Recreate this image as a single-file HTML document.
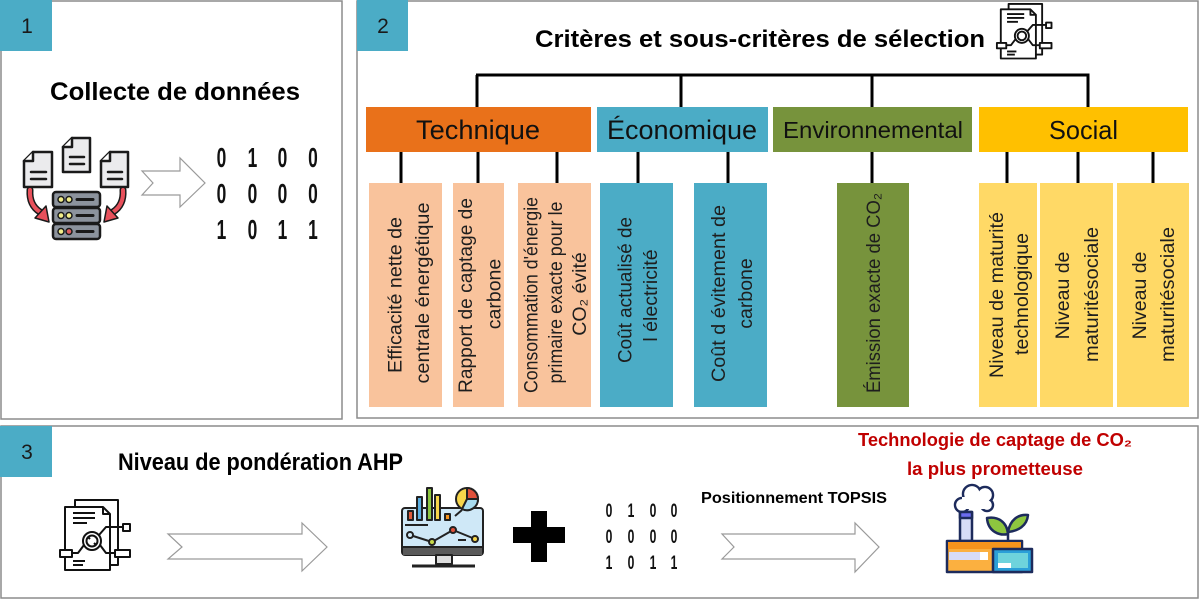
<!DOCTYPE html>
<html><head><meta charset="utf-8">
<style>
html,body{margin:0;padding:0;background:#fff;}
svg{display:block;}
text{font-family:"Liberation Sans",Arial,sans-serif;}
</style></head><body>
<svg width="1200" height="599" viewBox="0 0 1200 599" xmlns="http://www.w3.org/2000/svg">
<rect width="1200" height="599" fill="#fff"/>

<!-- panels -->
<rect x="1" y="1" width="341" height="418" fill="none" stroke="#8c8c8c" stroke-width="1.5"/>
<rect x="357" y="1" width="841" height="417" fill="none" stroke="#8c8c8c" stroke-width="1.5"/>
<rect x="1" y="426" width="1197" height="172" fill="none" stroke="#8c8c8c" stroke-width="1.5"/>

<!-- number boxes -->
<rect x="0" y="0" width="52" height="51" fill="#4bacc6"/>
<rect x="357" y="0" width="51" height="51" fill="#4bacc6"/>
<rect x="0" y="426" width="52" height="51" fill="#4bacc6"/>
<g font-size="21" text-anchor="middle" fill="#1a1a1a">
<text x="27" y="33">1</text>
<text x="383" y="33">2</text>
<text x="27" y="459">3</text>
</g>

<!-- titles -->
<g font-weight="bold" fill="#000">
<text x="50" y="100" font-size="25" textLength="250" lengthAdjust="spacingAndGlyphs">Collecte de données</text>
<text x="535" y="47" font-size="24" textLength="450" lengthAdjust="spacingAndGlyphs">Critères et sous-critères de sélection</text>
<text x="118" y="470" font-size="24" textLength="285" lengthAdjust="spacingAndGlyphs">Niveau de pondération AHP</text>
<text x="701" y="503" font-size="15.5" textLength="186" lengthAdjust="spacingAndGlyphs">Positionnement TOPSIS</text>
</g>
<g font-weight="bold" fill="#c00000" font-size="18">
<text x="858" y="446" textLength="274" lengthAdjust="spacingAndGlyphs">Technologie de captage de CO₂</text>
<text x="907" y="475" textLength="176" lengthAdjust="spacingAndGlyphs">la plus prometteuse</text>
</g>

<!-- tree connectors -->
<g stroke="#000" stroke-width="3" fill="none">
<line x1="476" y1="75" x2="1089.5" y2="75"/>
<line x1="477" y1="75" x2="477" y2="107"/>
<line x1="681" y1="75" x2="681" y2="107"/>
<line x1="872" y1="75" x2="872" y2="107"/>
<line x1="1088" y1="75" x2="1088" y2="107"/>
<line x1="401" y1="152" x2="401" y2="183"/>
<line x1="478" y1="152" x2="478" y2="183"/>
<line x1="557" y1="152" x2="557" y2="183"/>
<line x1="638" y1="152" x2="638" y2="183"/>
<line x1="728" y1="152" x2="728" y2="183"/>
<line x1="872" y1="152" x2="872" y2="183"/>
<line x1="1007" y1="152" x2="1007" y2="183"/>
<line x1="1078" y1="152" x2="1078" y2="183"/>
<line x1="1153" y1="152" x2="1153" y2="183"/>
</g>

<!-- category boxes -->
<rect x="366" y="107" width="225" height="45" fill="#e9711a"/>
<rect x="597" y="107" width="171" height="45" fill="#4bacc6"/>
<rect x="773" y="107" width="199" height="45" fill="#77933c"/>
<rect x="979" y="107" width="209" height="45" fill="#ffc000"/>
<g fill="#111">
<text x="416" y="139" font-size="27" textLength="124" lengthAdjust="spacingAndGlyphs">Technique</text>
<text x="607" y="139" font-size="27" textLength="150" lengthAdjust="spacingAndGlyphs">Économique</text>
<text x="783" y="138" font-size="23.5" textLength="180" lengthAdjust="spacingAndGlyphs">Environnemental</text>
<text x="1049" y="139" font-size="26" textLength="69" lengthAdjust="spacingAndGlyphs">Social</text>
</g>

<!-- sub-criteria boxes -->
<g fill="#f9c39c">
<rect x="369" y="183" width="73" height="224"/>
<rect x="453" y="183" width="51" height="224"/>
<rect x="518" y="183" width="73" height="224"/>
</g>
<g fill="#4bacc6">
<rect x="600" y="183" width="73" height="224"/>
<rect x="694" y="183" width="73" height="224"/>
</g>
<rect x="837" y="183" width="72" height="224" fill="#77933c"/>
<g fill="#ffd966">
<rect x="979" y="183" width="58" height="224"/>
<rect x="1040" y="183" width="73" height="224"/>
<rect x="1117" y="183" width="72" height="224"/>
</g>

<g font-size="19.5" fill="#1e1e1e" text-anchor="middle">
<text transform="translate(401.5,295) rotate(-90)" textLength="156" lengthAdjust="spacingAndGlyphs">Efficacité nette de</text>
<text transform="translate(429,293) rotate(-90)" textLength="181" lengthAdjust="spacingAndGlyphs">centrale énergétique</text>
<text transform="translate(472,295.5) rotate(-90)" textLength="195" lengthAdjust="spacingAndGlyphs">Rapport de captage de</text>
<text transform="translate(500.5,294) rotate(-90)">carbone</text>
<text transform="translate(537.5,295) rotate(-90)" textLength="196" lengthAdjust="spacingAndGlyphs">Consommation d'énergie</text>
<text transform="translate(562,292.5) rotate(-90)" textLength="182" lengthAdjust="spacingAndGlyphs">primaire exacte pour le</text>
<text transform="translate(586,294) rotate(-90)">CO₂ évité</text>
<text transform="translate(631.5,290) rotate(-90)" textLength="146" lengthAdjust="spacingAndGlyphs">Coût actualisé de</text>
<text transform="translate(657,295.5) rotate(-90)">l électricité</text>
<text transform="translate(725,293.5) rotate(-90)" textLength="177" lengthAdjust="spacingAndGlyphs">Coût d évitement de</text>
<text transform="translate(752,293.5) rotate(-90)">carbone</text>
<text transform="translate(880,293) rotate(-90)" textLength="200" lengthAdjust="spacingAndGlyphs">Émission exacte de CO₂</text>
<text transform="translate(1003,295) rotate(-90)" textLength="166" lengthAdjust="spacingAndGlyphs">Niveau de maturité</text>
<text transform="translate(1028,294) rotate(-90)" textLength="122" lengthAdjust="spacingAndGlyphs">technologique</text>
<text transform="translate(1069,295.5) rotate(-90)">Niveau de</text>
<text transform="translate(1098,294.5) rotate(-90)" textLength="135" lengthAdjust="spacingAndGlyphs">maturitésociale</text>
<text transform="translate(1146,295.5) rotate(-90)">Niveau de</text>
<text transform="translate(1174,294.5) rotate(-90)" textLength="135" lengthAdjust="spacingAndGlyphs">maturitésociale</text>
</g>

<!-- block arrows -->
<g fill="#fff" stroke="#9a9a9a" stroke-width="1.2" stroke-linejoin="miter">
<polygon points="142,171 180,171 180,158 205,183 180,207 180,195 142,195 153,183"/>
<polygon points="168,534 302,534 302,523 327,547 302,571 302,559 168,559 182,547"/>
<polygon points="722,534 855,534 855,523 879,547 855,572 855,559 722,559 734,547"/>
</g>

<!-- binary panel 1 -->
<g font-size="28" font-weight="bold" fill="#111" text-anchor="middle">
<text transform="translate(221.5,167) scale(0.62,1)">0</text>
<text transform="translate(252.5,167) scale(0.62,1)">1</text>
<text transform="translate(282.5,167) scale(0.62,1)">0</text>
<text transform="translate(313,167) scale(0.62,1)">0</text>
<text transform="translate(221.5,203) scale(0.62,1)">0</text>
<text transform="translate(252.5,203) scale(0.62,1)">0</text>
<text transform="translate(282.5,203) scale(0.62,1)">0</text>
<text transform="translate(313,203) scale(0.62,1)">0</text>
<text transform="translate(221.5,239) scale(0.62,1)">1</text>
<text transform="translate(252.5,239) scale(0.62,1)">0</text>
<text transform="translate(282.5,239) scale(0.62,1)">1</text>
<text transform="translate(313,239) scale(0.62,1)">1</text>
</g>
<!-- binary panel 3 -->
<g font-size="19.5" font-weight="bold" fill="#111" text-anchor="middle">
<text transform="translate(609,517) scale(0.62,1)">0</text>
<text transform="translate(631,517) scale(0.62,1)">1</text>
<text transform="translate(653,517) scale(0.62,1)">0</text>
<text transform="translate(674,517) scale(0.62,1)">0</text>
<text transform="translate(609,543) scale(0.62,1)">0</text>
<text transform="translate(631,543) scale(0.62,1)">0</text>
<text transform="translate(653,543) scale(0.62,1)">0</text>
<text transform="translate(674,543) scale(0.62,1)">0</text>
<text transform="translate(609,569) scale(0.62,1)">1</text>
<text transform="translate(631,569) scale(0.62,1)">0</text>
<text transform="translate(653,569) scale(0.62,1)">1</text>
<text transform="translate(674,569) scale(0.62,1)">1</text>
</g>

<!-- plus -->
<rect x="531" y="511" width="16" height="51" fill="#000"/>
<rect x="513" y="527" width="52" height="16" fill="#000"/>

<!-- panel 1 icon: docs + server -->
<g stroke="#1a1a1a" stroke-width="2.5" stroke-linejoin="round" stroke-linecap="round">
  <polygon points="33,152 52,152 52,187 24,187 24,161" fill="#ebebed"/>
  <path d="M24,161 L33,161 L33,152" fill="#fff"/>
  <line x1="31" y1="172" x2="46" y2="172"/><line x1="31" y1="179" x2="46" y2="179"/>
  <polygon points="72,138 90,138 90,172 63,172 63,147" fill="#ebebed"/>
  <path d="M63,147 L72,147 L72,138" fill="#fff"/>
  <line x1="70" y1="157" x2="84" y2="157"/><line x1="70" y1="164" x2="84" y2="164"/>
  <polygon points="110,152 128,152 128,187 101,187 101,161" fill="#ebebed"/>
  <path d="M101,161 L110,161 L110,152" fill="#fff"/>
  <line x1="108" y1="172" x2="122" y2="172"/><line x1="108" y1="179" x2="122" y2="179"/>
  <rect x="53" y="192" width="47" height="15" rx="3" fill="#8c939d"/>
  <rect x="53" y="208" width="47" height="15" rx="3" fill="#8c939d"/>
  <rect x="53" y="224" width="47" height="15" rx="3" fill="#8c939d"/>
  <line x1="77" y1="199.5" x2="93" y2="199.5" stroke-width="3"/>
  <line x1="77" y1="215.5" x2="93" y2="215.5" stroke-width="3"/>
  <line x1="77" y1="231.5" x2="93" y2="231.5" stroke-width="3"/>
</g>
<g stroke="#1a1a1a" stroke-width="1.5">
  <circle cx="61" cy="199.5" r="3" fill="#f3ee8a"/><circle cx="69" cy="199.5" r="3" fill="#f3ee8a"/>
  <circle cx="61" cy="215.5" r="3" fill="#f3ee8a"/><circle cx="69" cy="215.5" r="3" fill="#f3ee8a"/>
  <circle cx="61" cy="231.5" r="3" fill="#f3ee8a"/><circle cx="69" cy="231.5" r="3" fill="#e06060"/>
</g>
<g>
  <path d="M30,190 Q29,205 40,212" fill="none" stroke="#1a1a1a" stroke-width="7" stroke-linecap="round"/>
  <path d="M30,190 Q29,205 40,212" fill="none" stroke="#e8505b" stroke-width="4" stroke-linecap="round"/>
  <polygon points="46,206 35,218 49,222" fill="#e8505b" stroke="#1a1a1a" stroke-width="1.5" stroke-linejoin="round"/>
</g>
<g transform="translate(153,0) scale(-1,1)">
  <path d="M30,190 Q29,205 40,212" fill="none" stroke="#1a1a1a" stroke-width="7" stroke-linecap="round"/>
  <path d="M30,190 Q29,205 40,212" fill="none" stroke="#e8505b" stroke-width="4" stroke-linecap="round"/>
  <polygon points="46,206 35,218 49,222" fill="#e8505b" stroke="#1a1a1a" stroke-width="1.5" stroke-linejoin="round"/>
</g>

<!-- doc-magnifier icon (panel 3) -->
<g transform="translate(55,495)" stroke="#111" stroke-width="2" fill="none" stroke-linejoin="round">
  <rect x="20" y="5" width="43" height="65" fill="#fff"/>
  <polygon points="10,12 48,12 55,19 55,75 10,75" fill="#fff"/>
  <polyline points="48,12 48,19 55,19"/>
  <line x1="18" y1="18" x2="40" y2="18"/><line x1="18" y1="23" x2="40" y2="23"/><line x1="18" y1="28" x2="32" y2="28"/>
  <circle cx="37" cy="46" r="9" fill="#fff"/><circle cx="37" cy="46" r="5.5"/>
  <line x1="33" y1="42" x2="35" y2="44"/><line x1="41" y1="50" x2="39" y2="48"/>
  <polyline points="29,50 23,58 17,58"/><polyline points="45,50 51,58 60,58"/><polyline points="44,40 51,32 68,32"/>
  <rect x="5" y="55" width="12" height="7" fill="#fff"/>
  <rect x="60" y="55" width="15" height="7" fill="#fff"/>
  <rect x="68" y="29" width="7" height="7" fill="#fff"/>
  <line x1="18" y1="66" x2="30" y2="66"/><line x1="18" y1="70" x2="28" y2="70"/>
</g>
<!-- doc-magnifier icon (panel 2 title) -->
<g transform="translate(993,0) scale(0.78)" stroke="#111" stroke-width="2.4" fill="none" stroke-linejoin="round">
  <rect x="20" y="5" width="43" height="65" fill="#fff"/>
  <polygon points="10,12 48,12 55,19 55,75 10,75" fill="#fff"/>
  <polyline points="48,12 48,19 55,19"/>
  <line x1="18" y1="18" x2="40" y2="18"/><line x1="18" y1="23" x2="40" y2="23"/><line x1="18" y1="28" x2="32" y2="28"/>
  <circle cx="37" cy="46" r="9" fill="#fff"/><circle cx="37" cy="46" r="5.5"/>
  <polyline points="29,50 23,58 17,58"/><polyline points="45,50 51,58 60,58"/><polyline points="44,40 51,32 68,32"/>
  <rect x="5" y="55" width="12" height="7" fill="#fff"/>
  <rect x="60" y="55" width="15" height="7" fill="#fff"/>
  <rect x="68" y="29" width="7" height="7" fill="#fff"/>
  <line x1="18" y1="66" x2="30" y2="66"/><line x1="18" y1="70" x2="28" y2="70"/>
</g>

<!-- monitor icon -->
<g stroke="#222" stroke-width="2" stroke-linejoin="round">
  <rect x="402" y="508" width="81" height="47" rx="3" fill="#cfe8f7"/>
  <rect x="403" y="547" width="79" height="8" fill="#5a5a5a" stroke="none"/>
  <line x1="402" y1="547" x2="483" y2="547"/>
  <rect x="408" y="511" width="5" height="9" fill="#e05a3a"/>
  <rect x="417" y="497" width="5" height="23" fill="#5aaee0"/>
  <rect x="427" y="488" width="5" height="32" fill="#8cc63f"/>
  <rect x="435" y="495" width="5" height="25" fill="#f6d54a"/>
  <rect x="445" y="514" width="5" height="6" fill="#f7941d"/>
  <line x1="405" y1="525" x2="428" y2="525"/>
  <circle cx="467" cy="499" r="11" fill="#f6d54a"/>
  <path d="M467,499 L467,488 A11,11 0 0 1 478,499 Z" fill="#e0503a"/>
  <path d="M467,499 L478,499 A11,11 0 0 1 462,509 Z" fill="#a8dcf0"/>
  <line x1="462" y1="510" x2="455" y2="516"/>
  <polyline points="410,535 432,542 453,530 475,539" fill="none"/>
  <circle cx="410" cy="535" r="3" fill="#cfe8f7"/>
  <circle cx="432" cy="542" r="3" fill="#c6d94a"/>
  <circle cx="453" cy="530" r="3" fill="#e0503a"/>
  <circle cx="475" cy="539" r="3" fill="#f6d54a"/>
  <line x1="458" y1="540" x2="466" y2="540"/>
  <rect x="436" y="555" width="16" height="9" fill="#ddd"/>
  <line x1="412" y1="566" x2="475" y2="566" stroke-width="3"/>
</g>

<!-- factory icon -->
<g stroke="#1d2b5c" stroke-width="2.5" stroke-linejoin="round">
  <circle cx="962" cy="505" r="7" fill="#fff"/>
  <circle cx="972" cy="494" r="9" fill="#fff"/>
  <circle cx="985" cy="495" r="8" fill="#fff"/>
  <circle cx="987" cy="505" r="6" fill="#fff"/>
  <g stroke="none" fill="#fff">
    <circle cx="962" cy="505" r="5.7"/><circle cx="972" cy="494" r="7.7"/>
    <circle cx="985" cy="495" r="6.7"/><circle cx="987" cy="505" r="4.7"/>
    <rect x="962" y="497" width="25" height="12"/>
  </g>
  <rect x="960" y="512" width="12" height="29" fill="#d7dcf7"/>
  <rect x="960" y="512" width="12" height="6" fill="#6c6cf0"/>
  <line x1="1008" y1="533" x2="1008" y2="542"/>
  <path d="M1008,534 C1000,536 988,532 987,518 C998,516 1007,522 1008,534 Z" fill="#8dc63f"/>
  <path d="M1008,532 C1010,520 1018,514 1028,515 C1027,526 1018,531 1008,532 Z" fill="#8dc63f"/>
  <rect x="947" y="541" width="75" height="31" fill="#fbb040"/>
  <rect x="948" y="542" width="73" height="7" fill="#f7941d" stroke="none"/>
  <rect x="949" y="552" width="31" height="8" fill="#d7dcf7" stroke="none"/>
  <rect x="980" y="552" width="8" height="8" fill="#fff" stroke="none"/>
  <rect x="993" y="549" width="39" height="23" fill="#2b9fd8"/>
  <rect x="998" y="553" width="30" height="15" fill="#6ed3dc" stroke="none"/>
  <rect x="998" y="563" width="13" height="5" fill="#fff" stroke="none"/>
</g>

</svg>
</body></html>
